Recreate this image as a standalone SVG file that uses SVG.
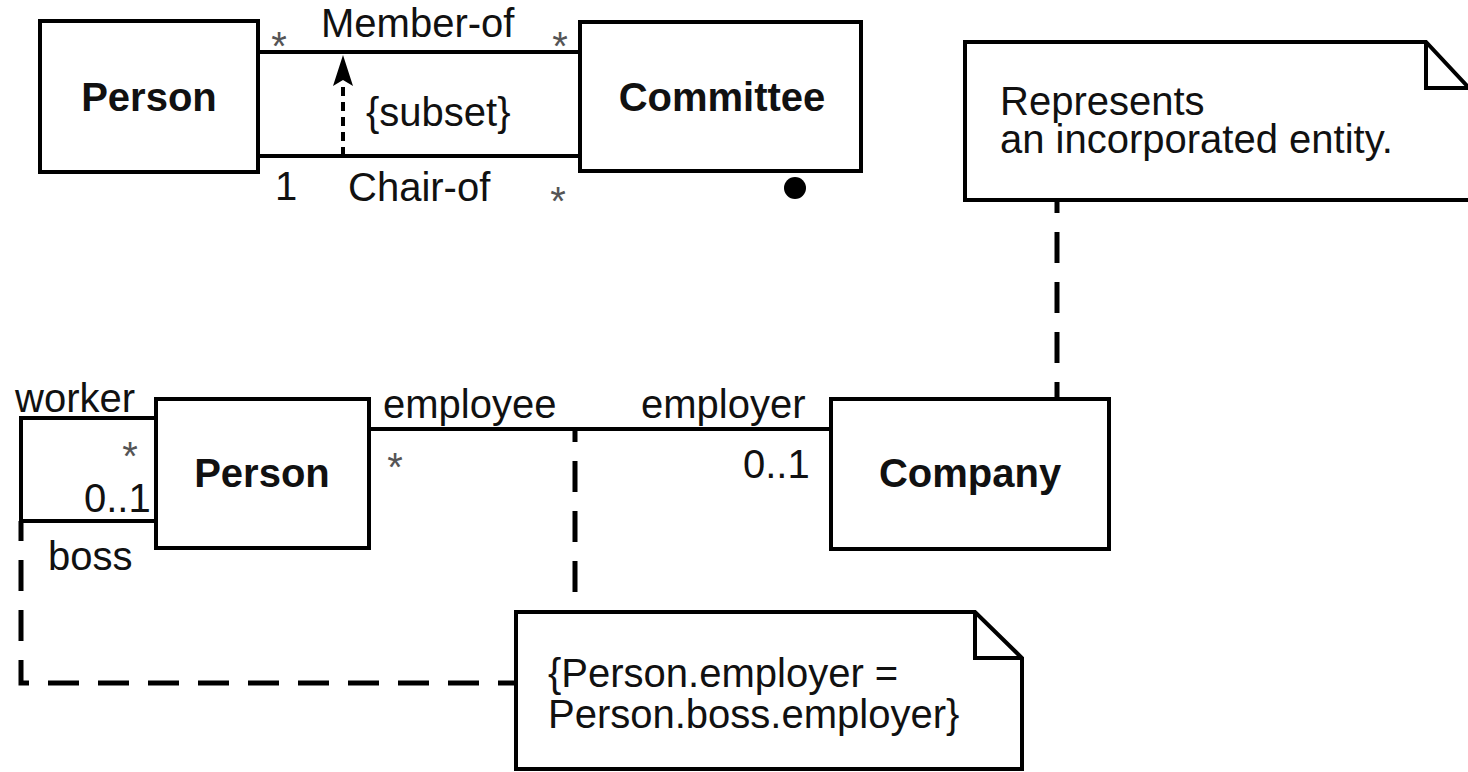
<svg xmlns="http://www.w3.org/2000/svg" width="1468" height="772" viewBox="0 0 1468 772">
<style>
  .box { fill: #fff; stroke: #000; stroke-width: 4; }
  .note { fill: #fff; stroke: #000; stroke-width: 4; stroke-linejoin: miter; }
  .fold { fill: none; stroke: #000; stroke-width: 4; }
  .assoc { fill: none; stroke: #000; stroke-width: 4; }
  .dash { fill: none; stroke: #000; stroke-width: 5; stroke-dasharray: 31 19; }
  .t { font-family: "Liberation Sans", Arial, sans-serif; font-size: 40px; fill: #111; }
  .b { font-weight: bold; text-anchor: middle; }
  .m { text-anchor: middle; fill: #555; }
</style>
<defs>
  <marker id="stealth" markerUnits="userSpaceOnUse" markerWidth="24" markerHeight="34" refX="12" refY="2" orient="auto-start-reverse" viewBox="0 0 24 34">
    <path d="M12,2 L22,32 L12,26 L2,32 Z" fill="#000"/>
  </marker>
</defs>

<g id="connectors">
  <path class="assoc" d="M258,52 H580" stroke-width="5"/>
  <path class="assoc" d="M258,156 H580"/>
  <path d="M343,156 V84" fill="none" stroke="#000" stroke-width="4" stroke-dasharray="9 6"/>
  <path d="M343,55 L353,86 L343,80 L333,86 Z" fill="#000"/>
  <path class="assoc" d="M156,418 H21 V521 H156" stroke-width="3.5"/>
  <path class="assoc" d="M369,429 H831" stroke-width="3.5"/>
  <path class="dash" d="M21,521 V683 H516" stroke-dashoffset="11"/>
  <path class="dash" d="M575,429 V612" stroke-dashoffset="18"/>
  <path class="dash" d="M1057,398 V200" stroke-dashoffset="15"/>
</g>

<g id="labels">
  <text class="t m" x="279" y="60">*</text>
  <text class="t" x="321" y="37">Member-of</text>
  <text class="t m" x="560" y="60">*</text>
  <text class="t" x="366" y="126">{subset}</text>
  <text class="t" x="275" y="200">1</text>
  <text class="t" x="348" y="201">Chair-of</text>
  <text class="t m" x="558" y="215">*</text>
  <text class="t" x="15" y="412">worker</text>
  <text class="t m" x="130" y="470">*</text>
  <text class="t" x="84" y="512">0..1</text>
  <text class="t" x="48" y="570">boss</text>
  <text class="t" x="383" y="418">employee</text>
  <text class="t m" x="395" y="481">*</text>
  <text class="t" x="641" y="418">employer</text>
  <text class="t" x="743" y="478">0..1</text>
</g>

<g id="person-top">
  <rect class="box" x="40" y="21" width="218" height="151"/>
  <text class="t b" x="149" y="111">Person</text>
</g>

<g id="committee">
  <rect class="box" x="580" y="22" width="281" height="149"/>
  <text class="t b" x="722" y="111">Committee</text>
  <circle cx="795" cy="188" r="11" fill="#000"/>
</g>

<g id="note-entity">
  <path class="note" d="M965,42 H1426 L1470,89 V200 H965 Z"/>
  <path class="fold" d="M1426,42 V88 H1470"/>
  <text class="t" x="1000" y="115">Represents</text>
  <text class="t" x="1000" y="153">an incorporated entity.</text>
</g>

<g id="person-bottom">
  <rect class="box" x="156" y="399" width="213" height="149"/>
  <text class="t b" x="262" y="487">Person</text>
</g>

<g id="company">
  <rect class="box" x="831" y="399" width="278" height="150"/>
  <text class="t b" x="970" y="487">Company</text>
</g>

<g id="note-constraint">
  <path class="note" d="M516,612 H975 L1022,658 V769 H516 Z"/>
  <path class="fold" d="M975,612 V658 H1022"/>
  <text class="t" x="548" y="687">{Person.employer =</text>
  <text class="t" x="548" y="728">Person.boss.employer}</text>
</g>
</svg>
